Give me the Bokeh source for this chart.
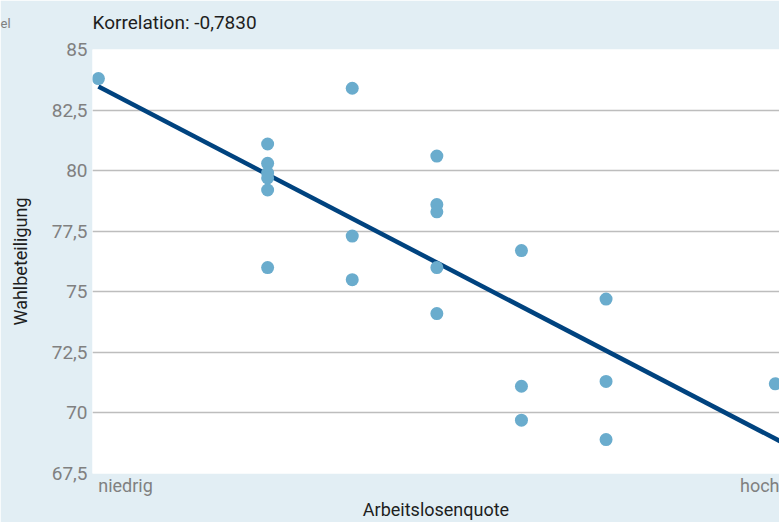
import numpy as np
from bokeh.plotting import figure
from bokeh.models import Range1d, FixedTicker, Label
from bokeh.embed import file_html
from bokeh.resources import INLINE

# ---- data ----
unemployment_level = [0,
                      2, 2, 2, 2, 2, 2,
                      3, 3, 3,
                      4, 4, 4, 4, 4,
                      5, 5, 5,
                      6, 6, 6,
                      8]
turnout = [83.8,
           81.1, 80.3, 79.9, 79.7, 79.2, 76.0,
           83.4, 77.3, 75.5,
           80.6, 78.6, 78.3, 76.0, 74.1,
           76.7, 71.1, 69.7,
           74.7, 71.3, 68.9,
           71.2]
y_ticks = [67.5, 70, 72.5, 75, 77.5, 80, 82.5, 85]
y_tick_labels = ["67,5", "70", "72,5", "75", "77,5", "80", "82,5", "85"]
x_tick_labels = ["niedrig", "hoch"]
correlation_text = "Korrelation: -0,7830"
x_title = "Arbeitslosenquote"
y_title = "Wahlbeteiligung"

# ---- styling ----
FONT = "Roboto"
BG = "#e2eef4"
GRID = "#bdbdbd"
TICK_GREY = "#808080"
DARK = "#1e1e1e"
DOT = "#6aaccd"
LINE = "#00437f"

p = figure(width=779, height=522, output_backend="svg", toolbar_location=None,
           x_range=Range1d(-0.07, 8.05), y_range=Range1d(67.5, 85),
           min_border_left=92, min_border_right=0, min_border_top=49,
           min_border_bottom=49)
p.background_fill_color = "white"
p.border_fill_color = BG
p.outline_line_color = None

# title
p.title.text = correlation_text
p.title.align = "left"
p.title.text_font = FONT
p.title.text_font_size = "19px"
p.title.text_font_style = "normal"
p.title.text_color = DARK
p.title.standoff = 2

# y axis
p.yaxis.ticker = FixedTicker(ticks=y_ticks)
p.yaxis.major_label_overrides = {t: l for t, l in zip(y_ticks, y_tick_labels)}
p.yaxis.axis_line_color = None
p.yaxis.major_tick_line_color = None
p.yaxis.minor_tick_line_color = None
p.yaxis.major_tick_out = 0
p.yaxis.major_label_standoff = 5
p.yaxis.major_label_text_font = FONT
p.yaxis.major_label_text_font_size = "19px"
p.yaxis.major_label_text_color = TICK_GREY
p.yaxis.axis_label = y_title
p.yaxis.axis_label_text_font = FONT
p.yaxis.axis_label_text_font_size = "18px"
p.yaxis.axis_label_text_font_style = "normal"
p.yaxis.axis_label_text_color = DARK
p.yaxis.axis_label_standoff = 18

# x axis
x_tick_pos = [0.32, 7.83]
p.xaxis.ticker = FixedTicker(ticks=x_tick_pos)
p.xaxis.major_label_overrides = {t: l for t, l in zip(x_tick_pos, x_tick_labels)}
p.xaxis.axis_line_color = None
p.xaxis.major_tick_line_color = None
p.xaxis.minor_tick_line_color = None
p.xaxis.major_tick_out = 0
p.xaxis.major_label_standoff = 1
p.xaxis.major_label_text_font = FONT
p.xaxis.major_label_text_font_size = "18px"
p.xaxis.major_label_text_color = TICK_GREY
p.xaxis.axis_label = x_title
p.xaxis.axis_label_text_font = FONT
p.xaxis.axis_label_text_font_size = "18px"
p.xaxis.axis_label_text_font_style = "normal"
p.xaxis.axis_label_text_color = DARK
p.xaxis.axis_label_standoff = 0

# grid
p.xgrid.grid_line_color = None
p.ygrid.ticker = FixedTicker(ticks=y_ticks)
p.ygrid.grid_line_color = GRID
p.ygrid.grid_line_width = 1.5

# regression line computed from data
slope, intercept = np.polyfit(unemployment_level, turnout, 1)
fit_x = [min(unemployment_level), max(unemployment_level) + 0.3]
fit_y = [intercept + slope * v for v in fit_x]
p.line(fit_x, fit_y, line_color=LINE, line_width=4.5)

# points
p.scatter(unemployment_level, turnout, size=13, fill_color=DOT, line_color=None)

# cut-off annotation at the top-left (placed in the upper side panel so it is not clipped)
p.add_layout(Label(x=-92, y=19, x_units="screen", y_units="screen", text="el",
                   text_font=FONT, text_font_size="13px", text_color=TICK_GREY),
             "above")

open("out.html", "w").write(file_html(p, INLINE))
